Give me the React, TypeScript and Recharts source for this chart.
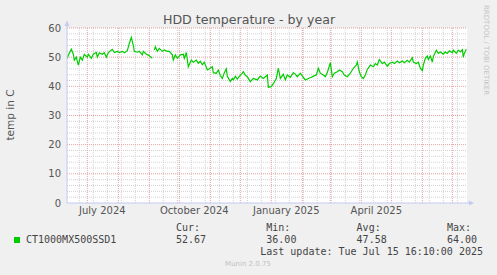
import React from 'react';
import { LineChart, Line, XAxis, YAxis, CartesianGrid } from 'recharts';

// Daily-average HDD temperature samples (null = missing data)
const dates: string[] = [
  '2024-06-11','2024-06-12','2024-06-15','2024-06-17','2024-06-18','2024-06-20','2024-06-22','2024-06-24','2024-06-26','2024-06-28',
  '2024-07-01','2024-07-02','2024-07-05','2024-07-07','2024-07-10','2024-07-11','2024-07-13','2024-07-16','2024-07-18','2024-07-20',
  '2024-07-22','2024-07-26','2024-07-28','2024-07-31','2024-08-02','2024-08-05','2024-08-07','2024-08-10','2024-08-12','2024-08-14',
  '2024-08-16','2024-08-17','2024-08-20','2024-08-22','2024-08-25','2024-08-26','2024-08-29','2024-08-31','2024-09-04','2024-09-05',
  '2024-09-06','2024-09-07','2024-09-09','2024-09-11','2024-09-14','2024-09-16','2024-09-19','2024-09-21','2024-09-24','2024-09-25',
  '2024-09-27','2024-09-29','2024-10-02','2024-10-05','2024-10-06','2024-10-08','2024-10-10','2024-10-13','2024-10-15','2024-10-18',
  '2024-10-20','2024-10-22','2024-10-24','2024-10-26','2024-10-29','2024-10-31','2024-11-03','2024-11-04','2024-11-07','2024-11-09',
  '2024-11-11','2024-11-13','2024-11-15','2024-11-17','2024-11-18','2024-11-21','2024-11-23','2024-11-24','2024-11-26','2024-11-28',
  '2024-11-30','2024-12-03','2024-12-04','2024-12-06','2024-12-08','2024-12-11','2024-12-14','2024-12-18','2024-12-21','2024-12-24',
  '2024-12-28','2024-12-29','2025-01-01','2025-01-03','2025-01-06','2025-01-08','2025-01-10','2025-01-13','2025-01-15','2025-01-17',
  '2025-01-20','2025-01-23','2025-01-25','2025-01-27','2025-01-30','2025-02-02','2025-02-04','2025-02-07','2025-02-10','2025-02-12',
  '2025-02-15','2025-02-17','2025-02-19','2025-02-22','2025-02-24','2025-02-26','2025-03-01','2025-03-03','2025-03-05','2025-03-08',
  '2025-03-10','2025-03-13','2025-03-15','2025-03-18','2025-03-21','2025-03-24','2025-03-27','2025-03-28','2025-03-30','2025-04-01',
  '2025-04-03','2025-04-05','2025-04-07','2025-04-10','2025-04-13','2025-04-15','2025-04-17','2025-04-19','2025-04-22','2025-04-24',
  '2025-04-27','2025-04-29','2025-05-02','2025-05-04','2025-05-07','2025-05-09','2025-05-12','2025-05-14','2025-05-17','2025-05-19',
  '2025-05-22','2025-05-23','2025-05-26','2025-05-28','2025-05-30','2025-06-01','2025-06-02','2025-06-04','2025-06-06','2025-06-07',
  '2025-06-09','2025-06-11','2025-06-12','2025-06-15','2025-06-17','2025-06-19','2025-06-22','2025-06-24','2025-06-26','2025-06-28',
  '2025-07-01','2025-07-02','2025-07-05','2025-07-07','2025-07-09','2025-07-11','2025-07-12','2025-07-13','2025-07-15',
];
const temps: (number | null)[] = [
  49.6, 50.7, 52.7, 51.0, 49.0, 50.0, 47.3, 50.0, 49.0, 51.0,
  50.0, 51.0, 49.6, 51.0, 51.6, 50.0, 51.5, 51.0, 51.5, 50.0,
  51.6, 52.7, 51.6, 52.0, 51.6, 52.0, 51.5, 52.2, 54.7, 56.8,
  54.0, 52.0, 51.7, 52.0, 50.8, 52.0, 51.0, 50.7, 49.6, null,
  52.4, 53.6, 52.0, 53.0, 52.0, 52.5, 52.0, 52.0, 50.8, 49.0,
  50.8, 49.6, 50.8, 51.0, 49.6, 51.6, 46.7, 49.0, 48.3, 49.0,
  47.9, 48.6, 47.4, 48.3, 45.6, 46.0, 46.7, 44.7, 44.5, 45.6,
  43.7, 42.7, 44.7, 46.0, 43.4, 41.6, 42.7, 42.2, 43.4, 42.5,
  43.4, 44.5, 45.0, 43.8, 43.3, 41.6, 42.7, 42.2, 43.5, 42.7,
  43.9, 39.7, 39.9, 40.9, 42.7, 46.2, 42.7, 44.1, 42.2, 43.9,
  43.1, 44.7, 44.2, 43.3, 44.5, 43.1, 42.2, 42.7, 43.1, 43.5,
  43.9, 46.2, 44.5, 43.9, 43.3, 44.7, 48.1, 43.3, 44.5, 45.0,
  45.6, 45.0, 43.9, 43.3, 44.5, 46.2, 47.3, 48.3, 45.0, 43.3,
  42.7, 43.9, 45.8, 47.3, 46.7, 47.8, 47.3, 49.2, 47.8, 48.3,
  46.9, 47.8, 48.3, 47.8, 48.7, 48.1, 48.7, 48.1, 48.9, 48.3,
  49.8, 48.3, 47.8, 48.3, 46.2, 45.4, 47.3, 49.6, 50.4, 49.2,
  50.4, 48.3, 50.2, 52.4, 51.3, 51.8, 51.0, 51.8, 51.3, 52.2,
  51.5, 52.4, 51.3, 52.4, 51.8, 52.6, 50.0, 51.3, 52.7,
];

const seriesName = 'CT1000MX500SSD1';
const statLabels = ['Cur:', 'Min:', 'Avg:', 'Max:'];
const statValues = ['52.67', '36.00', '47.58', '64.00'];
const lastUpdate = 'Last update: Tue Jul 15 16:10:00 2025';
const titleText = 'HDD temperature - by year';
const yLabelText = 'temp in C';
const sideText = 'RRDTOOL / TOBI OETIKER';
const footerText = 'Munin 2.0.75';

const xTickDates = ['2024-07-16', '2024-10-16', '2025-01-16', '2025-04-16'];
const xTickLabels = ['July 2024', 'October 2024', 'January 2025', 'April 2025'];
const yTicks = [0, 10, 20, 30, 40, 50, 60];
const yMinor = [2, 4, 6, 8, 12, 14, 16, 18, 22, 24, 26, 28, 32, 34, 36, 38, 42, 44, 46, 48, 52, 54, 56, 58];
const monthStarts = ['2024-07-01','2024-08-01','2024-09-01','2024-10-01','2024-11-01','2024-12-01','2025-01-01','2025-02-01','2025-03-01','2025-04-01','2025-05-01','2025-06-01','2025-07-01'];
const minorDates = ['2024-06-23','2024-07-07','2024-07-21','2024-08-04','2024-08-18','2024-09-15','2024-09-29','2024-10-13','2024-10-27','2024-11-10','2024-11-24','2024-12-08','2024-12-22','2025-01-05','2025-01-19','2025-02-02','2025-02-16','2025-03-02','2025-03-16','2025-03-30','2025-04-13','2025-04-27','2025-05-11','2025-05-25','2025-06-08','2025-06-22','2025-07-06'];

const ms = (d: string) => Date.parse(d + 'T00:00:00Z');
const END = Date.UTC(2025, 6, 15, 16, 10);
const START = END - 400 * 86400000;

const data = dates.map((d, i) => ({ t: ms(d), v: temps[i] }));
const xTicks = xTickDates.map(ms);
const FONT = '"DejaVu Sans", Verdana, sans-serif';
const MONO = '"DejaVu Sans Mono", monospace';
const AXIS = '#C4CAF2';

export default function App() {
  return (
    <div style={{ position: 'absolute', left: 0, top: 0, width: 497, height: 275, background: '#F0F0F0', overflow: 'hidden' }}>
      <LineChart width={497} height={275} data={data} margin={{ top: 28, right: 30, bottom: 52, left: 7 }}>
        <CartesianGrid fill="#FFFFFF" stroke="#D2D2D2" strokeDasharray="1 1"
          horizontalValues={yMinor} verticalValues={minorDates.map(ms)} />
        <CartesianGrid fill="none" stroke="#E6A0A0" strokeDasharray="1 1"
          horizontalValues={yTicks.filter(v => v > 0)} verticalValues={monthStarts.map(ms)} />
        <XAxis dataKey="t" type="number" domain={[START, END]} allowDataOverflow ticks={xTicks}
          interval={0} tickFormatter={(v: number) => xTickLabels[xTicks.indexOf(v)] ?? ''}
          axisLine={{ stroke: AXIS }} tickLine={false} tickSize={0} tickMargin={4} height={20}
          tick={{ fill: '#555', fontSize: 10, fontFamily: FONT }} />
        <YAxis type="number" domain={[0, 60]} ticks={yTicks} interval={0} width={60}
          axisLine={{ stroke: AXIS }} tickLine={false} tickSize={0} tickMargin={6}
          tick={{ fill: '#555', fontSize: 10, fontFamily: FONT }} />
        <Line type="linear" dataKey="v" stroke="#00CC00" strokeWidth={1.2} dot={false}
          isAnimationActive={false} connectNulls={false} />
      </LineChart>
      <svg width={497} height={275} style={{ position: 'absolute', left: 0, top: 0, pointerEvents: 'none' }}>
        <line x1={67} y1={28} x2={67} y2={23} stroke={AXIS} />
        <polygon points="64.5,26 69.5,26 67,20.5" fill={AXIS} />
        <line x1={467} y1={203} x2={470} y2={203} stroke={AXIS} />
        <polygon points="469,200.5 469,205.5 474,203" fill={AXIS} />
        <text x={249} y={24} textAnchor="middle" fontFamily={FONT} fontSize={12.6} fill="#555">{titleText}</text>
        <text transform="translate(14,115) rotate(-90)" textAnchor="middle" fontFamily={FONT} fontSize={10.5} fill="#555">{yLabelText}</text>
        <text transform="translate(484,5) rotate(90)" textAnchor="start" fontFamily={FONT} fontSize={7} fill="#C4C4C4">{sideText}</text>
        <rect x={14} y={237} width={6} height={6} fill="#00CC00" />
        <text x={26} y={243.3} fontFamily={MONO} fontSize={10} fill="#444">{seriesName}</text>
        {statLabels.map((s, i) => (
          <text key={s} x={176 + i * 90.3} y={230.7} fontFamily={MONO} fontSize={10} fill="#444">{s}</text>
        ))}
        {statValues.map((s, i) => (
          <text key={i} x={176 + i * 90.3} y={243.3} fontFamily={MONO} fontSize={10} fill="#444">{s}</text>
        ))}
        <text x={483} y={255} textAnchor="end" fontFamily={MONO} fontSize={10} fill="#444">{lastUpdate}</text>
        <text x={248} y={266} textAnchor="middle" fontFamily={FONT} fontSize={7} fill="#C0C0C0">{footerText}</text>
      </svg>
    </div>
  );
}
